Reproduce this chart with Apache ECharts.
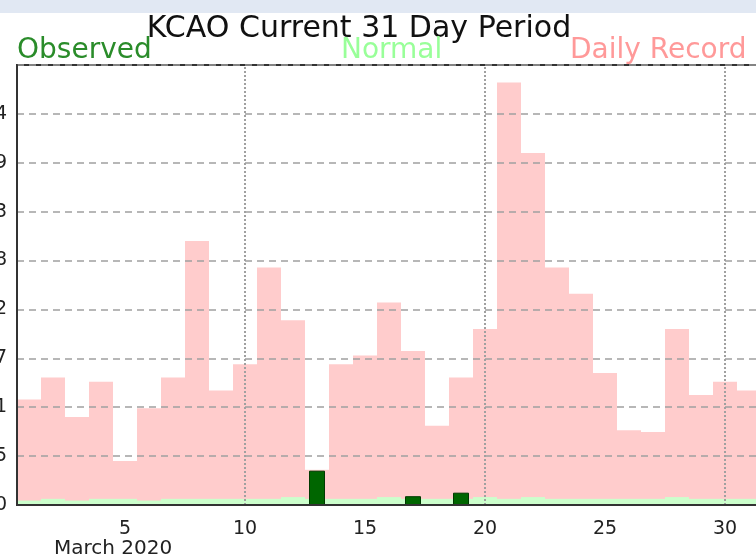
<!DOCTYPE html>
<html>
<head>
<meta charset="UTF-8">
<title>KCAO Current 31 Day Period</title>
<script src="https://cdn.jsdelivr.net/npm/echarts@6/dist/echarts.min.js"></script>
<style>
html, body { margin: 0; padding: 0; background: #fff; }
#chart { width: 756px; height: 557px; }
</style>
</head>
<body>
<div id="chart"></div>
<script>
// March 2020, precipitation (in)
var days = ['1','2','3','4','5','6','7','8','9','10','11','12','13','14','15','16',
            '17','18','19','20','21','22','23','24','25','26','27','28','29','30','31'];
var recordVals = [0.12, 0.145, 0.10, 0.14, 0.05, 0.11, 0.145, 0.30, 0.13, 0.16, 0.27,
                  0.21, 0.04, 0.16, 0.17, 0.23, 0.175, 0.09, 0.145, 0.20, 0.48,
                  0.40, 0.27, 0.24, 0.15, 0.085, 0.083, 0.20, 0.125, 0.14, 0.13];
var normalVals = [0.005, 0.007, 0.005, 0.007, 0.007, 0.005, 0.007, 0.007, 0.007, 0.007, 0.007,
                  0.009, 0.007, 0.007, 0.007, 0.009, 0.007, 0.007, 0.007, 0.009, 0.007,
                  0.009, 0.007, 0.007, 0.007, 0.007, 0.007, 0.009, 0.007, 0.007, 0.007];
var observedVals = [0, 0, 0, 0, 0, 0, 0, 0, 0, 0, 0, 0, 0.039, 0, 0, 0,
                    0.01, 0, 0.014, 0, 0, 0, 0, 0, 0, 0, 0, 0, 0, 0, 0];
var yTickLabels = ['0', '0.05', '0.11', '0.17', '0.22', '0.28', '0.33', '0.39', '0.44'];
var yMax = 0.5;
var yStep = yMax / 9;
var gridDays = ['10', '20', '30'];

var chart = echarts.init(document.getElementById('chart'));

var option = {
    animation: false,
    backgroundColor: '#fff',
    graphic: [
        { type: 'rect', left: 0, top: 0, shape: { width: 756, height: 13 }, style: { fill: '#e1e8f3' } },
        { type: 'text', x: 359, y: 29, style: { text: 'KCAO Current 31 Day Period', fill: '#111',
            font: '30px "DejaVu Sans"', align: 'center', verticalAlign: 'middle' } },
        { type: 'text', x: 17, y: 51, style: { text: 'Observed', fill: '#2a8c2a',
            font: '28px "DejaVu Sans"', verticalAlign: 'middle' } },
        { type: 'text', x: 341, y: 51, style: { text: 'Normal', fill: '#99ff99',
            font: '28px "DejaVu Sans"', verticalAlign: 'middle' } },
        { type: 'text', x: 570, y: 51, style: { text: 'Daily Record', fill: '#ff9999',
            font: '28px "DejaVu Sans"', verticalAlign: 'middle' } },
        { type: 'text', x: 54, y: 549, style: { text: 'March 2020', fill: '#222',
            font: '20px "DejaVu Sans"', verticalAlign: 'middle' } }
    ],
    grid: {
        left: 17, right: -5, top: 65, bottom: 52,
        containLabel: false, outerBoundsMode: 'none',
        show: true, borderColor: '#333', borderWidth: 2
    },
    xAxis: [
        {
            type: 'category', data: days, position: 'bottom', z: 5,
            axisLine: { show: true, lineStyle: { color: '#333', width: 2 } },
            axisTick: { alignWithLabel: true, length: 7, lineStyle: { color: '#222', width: 2 } },
            axisLabel: { show: false },
            splitLine: { show: false }
        },
        {
            type: 'category', data: days, position: 'bottom', z: 5,
            axisLine: { show: false },
            axisTick: {
                alignWithLabel: true, length: 12, lineStyle: { color: '#222', width: 2 },
                interval: function (i) { return (i + 1) % 5 === 0; }
            },
            axisLabel: {
                interval: function (i) { return (i + 1) % 5 === 0; },
                color: '#222', fontSize: 19, fontFamily: 'DejaVu Sans', margin: 15
            },
            splitLine: { show: false }
        }
    ],
    yAxis: {
        type: 'value', min: 0, max: yMax, interval: yStep, z: 5,
        axisLine: { show: true, lineStyle: { color: '#333', width: 2 } },
        axisTick: { show: false },
        axisLabel: {
            color: '#222', fontSize: 19, fontFamily: 'DejaVu Sans', margin: 10,
            formatter: function (v) {
                var i = Math.round(v / yStep);
                return yTickLabels[i] !== undefined ? yTickLabels[i] : '';
            }
        },
        splitLine: { show: true, lineStyle: { color: '#a0a0a0', width: 1.5, type: [7, 5] } }
    },
    series: [
        {
            name: 'Daily Record', type: 'bar', xAxisIndex: 0, data: recordVals,
            barWidth: '100%', barGap: '-100%',
            itemStyle: { color: '#ffcccc' }
        },
        {
            name: 'Normal', type: 'bar', xAxisIndex: 0, data: normalVals,
            barWidth: '100%', barGap: '-100%',
            itemStyle: { color: '#ccffcc' }
        },
        {
            name: 'Observed', type: 'bar', xAxisIndex: 1, data: observedVals,
            barWidth: 16,
            itemStyle: { color: '#006600', borderColor: '#003a00', borderWidth: 1 },
            markLine: {
                silent: true, symbol: 'none', label: { show: false },
                lineStyle: { color: '#a0a0a0', width: 2, type: [2, 2] },
                data: gridDays.map(function (d) { return { xAxis: d }; })
            }
        }
    ]
};

chart.setOption(option);
</script>
</body>
</html>
